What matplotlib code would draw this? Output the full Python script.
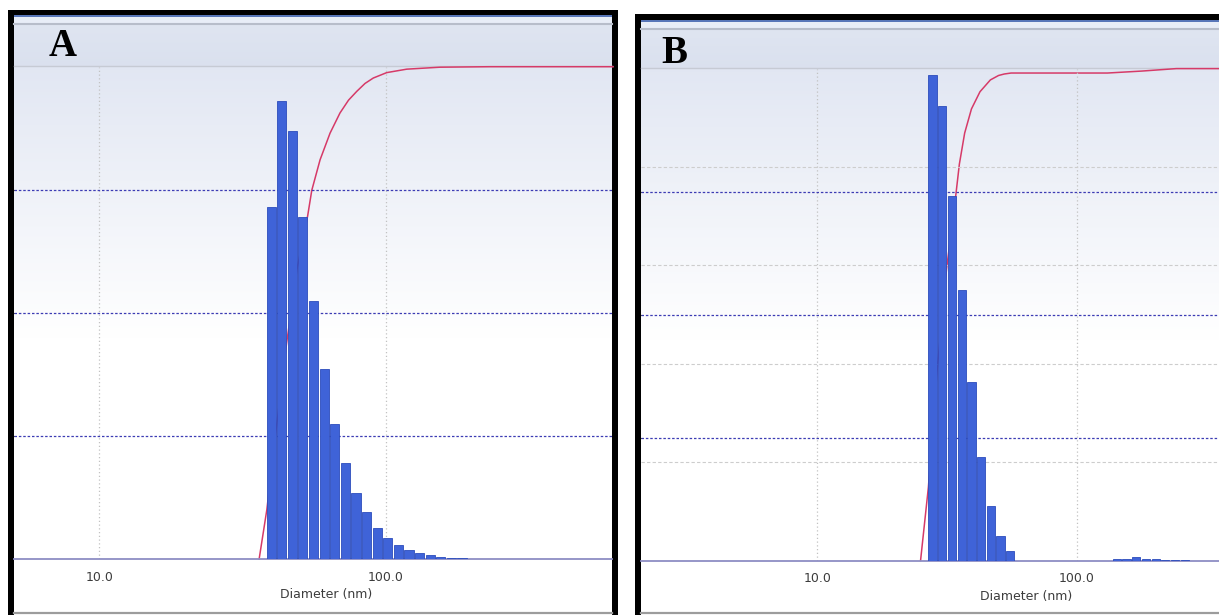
import numpy as np
import matplotlib.pyplot as plt
from matplotlib.patches import Rectangle
from matplotlib.ticker import FixedLocator, FixedFormatter, NullLocator

# Panel A: channel centres (nm), % in channel, cumulative % passing
a_diam = [39.8, 43.3, 47.2, 51.3, 55.9, 60.9, 66.3, 72.2, 78.6, 85.6,
          93.2, 101.5, 110.5, 120.3, 131.0, 142.6, 155.3, 169.1, 184.1]
a_chan = [14.3, 18.6, 17.4, 13.9, 10.5, 7.7, 5.5, 3.9, 2.7, 1.9,
          1.25, 0.85, 0.56, 0.36, 0.24, 0.15, 0.10, 0.06, 0.04]
a_cum_d = [36.1, 38.4, 41.3, 45.0, 49.0, 53.3, 55.1, 58.9, 63.8, 69.1,
           74.0, 79.1, 84.5, 90.3, 100.6, 118.1, 154.3, 230.6, 620.0]
a_cum = [0, 10.0, 25.9, 43.8, 59.1, 69.7, 74.9, 81.1, 86.5, 90.6,
         93.2, 95.0, 96.6, 97.7, 98.8, 99.5, 99.9, 100, 100]

# Panel B
b_diam = [27.8, 30.3, 33.1, 36.1, 39.3, 42.9, 46.7, 50.9, 55.5,
          143.3, 156.0, 170.0, 185.5, 202.0, 220.0, 240.0, 262.0]
b_chan = [24.65, 23.1, 18.5, 13.75, 9.05, 5.25, 2.75, 1.25, 0.48,
          0.09, 0.10, 0.18, 0.10, 0.10, 0.05, 0.05, 0.05]
b_cum_d = [25.0, 26.8, 29.0, 31.5, 34.2, 35.3, 37.0, 39.3, 42.4, 46.5,
           50.0, 52.6, 55.9, 131.7, 178.9, 243.0, 360.0]
b_cum = [0, 14.9, 39.0, 59.3, 74.3, 80.6, 86.9, 91.8, 95.3, 97.7,
         98.6, 98.9, 99.1, 99.1, 99.5, 100, 100]

tick_vals = [10, 100]
tick_labels = ['10.0', '100.0']

W, H = 1219, 615
BAR = '#3f63d8'
CURVE = '#d63a68'
GRID_BLUE = '#3c3cb4'

fig = plt.figure(figsize=(W / 100, H / 100), dpi=100)
bg = fig.add_axes([0, 0, 1, 1], zorder=0)
bg.axis('off')


def px_axes(x0, y0, x1, y1, **kw):
    return fig.add_axes([x0 / W, 1 - y1 / H, (x1 - x0) / W, (y1 - y0) / H], **kw)


def vgrad(x0, x1, y_top, y_bot, top, bottom, fade=1.0, z=2):
    t = np.linspace(0, 1, 200)
    f = np.clip(t / fade, 0, 1)[:, None, None]
    top = np.array(top)
    bottom = np.array(bottom)
    img = np.repeat(top + (bottom - top) * f, 2, axis=1)
    bg.imshow(img, extent=(x0, x1, y_bot, y_top), origin='upper',
              aspect='auto', interpolation='bilinear', zorder=z)


def frame(outer, inner, header_top, plot_top, plot_bot, right):
    ox0, oy0 = outer
    ix0, iy0 = inner
    bg.add_patch(Rectangle((ox0, oy0), right[0] - ox0, H + 10 - oy0, color='black', lw=0, zorder=0))
    bg.add_patch(Rectangle((ix0, iy0), right[1] - ix0, H + 10 - iy0, color='white', lw=0, zorder=1))
    w = right[1] - ix0
    # header band
    vgrad(ix0, right[1], header_top + 9, plot_top, (0.875, 0.898, 0.945), (0.855, 0.88, 0.935))
    bg.add_patch(Rectangle((ix0, header_top + 2), w, 6.5, color='#e8edf7', lw=0, zorder=3))
    bg.add_patch(Rectangle((ix0, header_top), w, 2, color='#5876b8', lw=0, zorder=3))
    bg.plot([ix0, right[1]], [header_top + 9, header_top + 9], color='#b7bdca', lw=1.5, zorder=3)
    bg.plot([ix0, right[1]], [plot_top - 0.5, plot_top - 0.5], color='#c6cad4', lw=1, zorder=3)
    # plot background gradient
    vgrad(ix0, right[1], plot_top, plot_bot, (0.885, 0.905, 0.952), (1, 1, 1), fade=0.55)
    bg.plot([ix0, right[1]], [613.3, 613.3], color='#9c9c9c', lw=1.6, zorder=3)


frame((8, 10), (14, 15), 15, 66.7, 559, (617.7, 611.7))
frame((635, 14.3), (640.7, 20), 20, 68.6, 560.5, (W + 10, W + 10))
bg.set_xlim(0, W)
bg.set_ylim(H, 0)
bg.set_aspect('auto')


def panel(box, xlim, diam, chan, cum_d, cum, chan_max, gray_grid, label_pos):
    ax = px_axes(*box, zorder=2)
    ax.patch.set_alpha(0)
    ax.set_xscale('log')
    ax.set_xlim(*xlim)
    ax.set_ylim(0, 100)
    ax.plot(cum_d, cum, color=CURVE, lw=1.1, zorder=1, clip_on=False)

    ax.xaxis.set_major_locator(FixedLocator(tick_vals))
    ax.xaxis.set_major_formatter(FixedFormatter(tick_labels))
    ax.xaxis.set_minor_locator(NullLocator())
    ax.set_yticks([25, 50, 75])
    ax.grid(axis='x', color='#c2c2c2', ls=(0, (1, 2)), lw=0.9)
    ax.grid(axis='y', color=GRID_BLUE, ls=(0, (2, 1.5)), lw=0.9)
    ax.tick_params(axis='x', length=0, pad=8.5, labelsize=9, labelcolor='#3c3c3c')
    ax.tick_params(axis='y', left=False, labelleft=False)
    for s in ['top', 'left', 'right']:
        ax.spines[s].set_visible(False)
    ax.spines['bottom'].set_color('#8e8ec4')
    ax.spines['bottom'].set_linewidth(1.3)
    ax.text(label_pos[0], label_pos[1], 'Diameter (nm)', transform=ax.transAxes,
            ha='center', va='center', fontsize=9, color='#3c3c3c')

    axb = ax.twinx()
    axb.set_ylim(0, chan_max)
    hw = 0.0158
    d = np.array(diam)
    axb.bar(d * 10 ** -hw, chan, width=d * (10 ** hw - 10 ** -hw), align='edge',
            color=BAR, edgecolor='#2c4cbc', lw=0.6, zorder=3)
    axb.set_axisbelow(True)
    if gray_grid:
        axb.set_yticks([5, 10, 15, 20])
        axb.grid(axis='y', color='#cdcdcd', ls=(0, (3, 2)), lw=0.8)
    else:
        axb.set_yticks([])
    axb.tick_params(axis='y', right=False, labelright=False)
    for s in axb.spines.values():
        s.set_visible(False)
    return ax


panel((13.5, 66.7, 611.7, 559), (5.02, 612.7), a_diam, a_chan, a_cum_d, a_cum,
      20, False, (0.522, -0.073))
panel((640.7, 68.6, W, 560.5), (2.077, 354.9), b_diam, b_chan, b_cum_d, b_cum,
      25, True, (0.666, -0.074))

fig.text(63 / W, 1 - 56 / H, 'A', ha='center', va='baseline',
         family='Liberation Serif', weight='bold', fontsize=28)
fig.text(674.5 / W, 1 - 63 / H, 'B', ha='center', va='baseline',
         family='Liberation Serif', weight='bold', fontsize=28)

fig.savefig('out.png', dpi=100)
